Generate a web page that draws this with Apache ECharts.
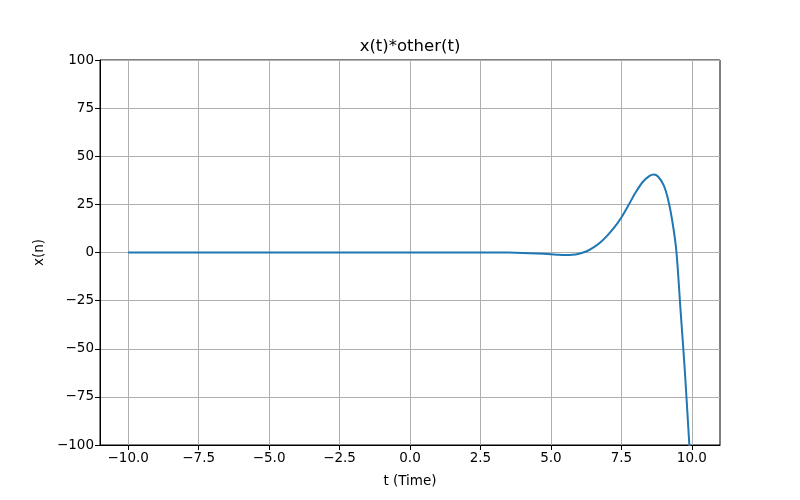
<!DOCTYPE html>
<html>
<head>
<meta charset="utf-8">
<script src="https://cdn.jsdelivr.net/npm/echarts@6/dist/echarts.min.js"></script>
<style>html,body{margin:0;padding:0;background:#fff}#c{width:800px;height:500px}</style>
</head>
<body>
<div id="c"></div>
<script>
const tValues = [-10, -7.5, -5, -2.5, 0, 1, 2, 2.5, 3, 3.5, 4, 4.5, 5, 5.25, 5.5, 5.75, 6, 6.25, 6.5, 6.75, 7, 7.25, 7.5, 7.75, 8, 8.25, 8.5, 8.65, 8.8, 9, 9.15, 9.3, 9.45, 9.6, 9.75, 9.9, 10];
const yValues = [0, 0, 0, 0, 0, 0, 0, 0, 0, -0.05, -0.2, -0.5, -0.9, -1.15, -1.3, -1.2, -0.6, 0.5, 2.5, 5.2, 8.8, 13, 18.2, 24.5, 31, 36.5, 39.8, 40.5, 39.5, 35, 28, 17, 1, -30, -61, -97, -120];
const xTicks = [-10, -7.5, -5, -2.5, 0, 2.5, 5, 7.5, 10];
const titleText = 'x(t)*other(t)';
const xName = 't (Time)';
const yName = 'x(n)';

const fmt = v => String(v).replace('-', '\u2212');
const font = 'DejaVu Sans';
const chart = echarts.init(document.getElementById('c'), null, {renderer: 'canvas'});
chart.setOption({
  animation: false,
  backgroundColor: '#fff',
  grid: {left: 100, right: 80, top: 60, bottom: 55, show: true, borderColor: '#000', borderWidth: 1, backgroundColor: 'transparent'},
  graphic: [{
    type: 'text', x: 410, y: 47,
    style: {text: titleText, font: '16.5px "DejaVu Sans"', fill: '#000', textAlign: 'center', textVerticalAlign: 'middle'}
  }],
  xAxis: {
    type: 'value', min: -11, max: 11,
    name: xName, nameLocation: 'middle', nameGap: 29,
    nameTextStyle: {fontFamily: font, fontSize: 13.5, color: '#000'},
    axisLine: {show: true, onZero: false, lineStyle: {color: '#000', width: 1}},
    axisTick: {show: true, inside: false, length: 5, customValues: xTicks, lineStyle: {color: '#000'}},
    axisLabel: {customValues: xTicks, fontFamily: font, fontSize: 13.5, color: '#000', margin: 6,
      formatter: v => fmt(Number(v).toFixed(1))},
    splitLine: {show: true, lineStyle: {color: '#b0b0b0', width: 1}}
  },
  yAxis: {
    type: 'value', min: -100, max: 100, interval: 25,
    name: yName, nameLocation: 'middle', nameGap: 53, nameRotate: 90,
    nameTextStyle: {fontFamily: font, fontSize: 13.5, color: '#000'},
    axisLine: {show: true, onZero: false, lineStyle: {color: '#000', width: 1}},
    axisTick: {show: true, inside: false, length: 5, lineStyle: {color: '#000'}},
    axisLabel: {fontFamily: font, fontSize: 13.5, color: '#000', margin: 6, formatter: v => fmt(v)},
    splitLine: {show: true, lineStyle: {color: '#b0b0b0', width: 1}}
  },
  series: [{
    type: 'line',
    data: tValues.map((t, i) => [t, yValues[i]]),
    showSymbol: false, smooth: 0.3, clip: true,
    lineStyle: {color: '#1f77b4', width: 2},
    itemStyle: {color: '#1f77b4'}
  }]
});
</script>
</body>
</html>
